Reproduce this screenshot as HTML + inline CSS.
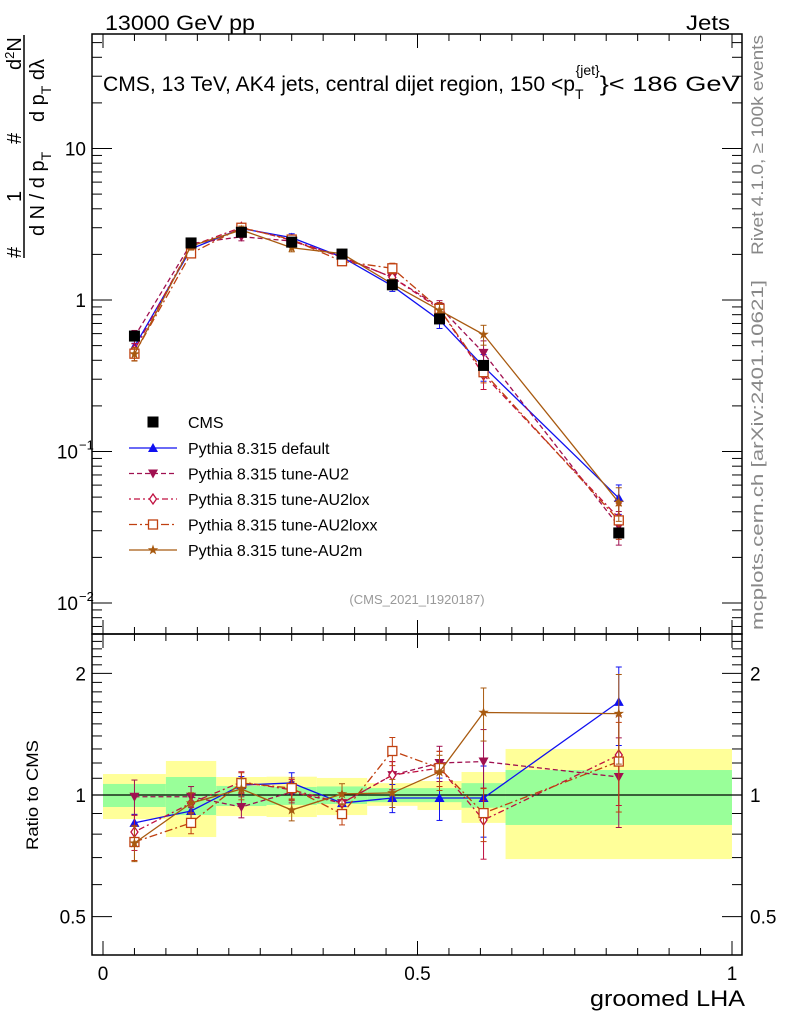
<!DOCTYPE html>
<html><head><meta charset="utf-8"><style>
body{margin:0;background:#fff;}
svg text{font-family:"Liberation Sans",sans-serif;}
</style></head><body>
<svg id="c" width="786" height="1024" xmlns="http://www.w3.org/2000/svg">
<rect width="786" height="1024" fill="#fff"/>
<g id="bands"></g>
<g id="marks"></g>
<g id="axes"></g>
<text x="105" y="30" font-size="21" textLength="150" lengthAdjust="spacingAndGlyphs">13000 GeV pp</text>
<text x="686" y="30" font-size="21" textLength="44" lengthAdjust="spacingAndGlyphs">Jets</text>
<text x="103" y="91" font-size="21"><tspan textLength="472" lengthAdjust="spacingAndGlyphs">CMS, 13 TeV, AK4 jets, central dijet region, 150 &lt;p</tspan><tspan font-size="14" dy="8">T</tspan><tspan font-size="14" dx="-8" dy="-24">{jet}</tspan><tspan dy="16" textLength="140" lengthAdjust="spacingAndGlyphs">}&lt; 186 GeV</tspan></text>
<text x="417" y="604" font-size="13" fill="#999" text-anchor="middle">(CMS_2021_I1920187)</text>
<text transform="translate(763,145) rotate(-90)" font-size="17" fill="#888" text-anchor="middle" textLength="220" lengthAdjust="spacingAndGlyphs">Rivet 4.1.0, ≥ 100k events</text>
<text transform="translate(763,455) rotate(-90)" font-size="17" fill="#888" text-anchor="middle" textLength="350" lengthAdjust="spacingAndGlyphs">mcplots.cern.ch [arXiv:2401.10621]</text>
<g font-size="20">
<line x1="24" y1="35" x2="24" y2="258" stroke="#000" stroke-width="1.5"/>
<text transform="translate(21,258) rotate(-90)">#</text>
<text transform="translate(21,202) rotate(-90)">1</text>
<text transform="translate(21,144) rotate(-90)">#</text>
<text transform="translate(21,70) rotate(-90)">d<tspan font-size="13" dy="-7">2</tspan><tspan dy="7">N</tspan></text>
<text transform="translate(44,236) rotate(-90)">d N / d p<tspan font-size="14" dy="7">T</tspan></text>
<text transform="translate(44,122) rotate(-90)">d p<tspan font-size="14" dy="7">T</tspan><tspan dy="-7"> dλ</tspan></text>
</g>
<text transform="translate(38,795) rotate(-90)" font-size="17" text-anchor="middle" textLength="110" lengthAdjust="spacingAndGlyphs">Ratio to CMS</text>
<text x="590" y="1006" font-size="22" textLength="155" lengthAdjust="spacingAndGlyphs">groomed LHA</text>
<g id="legend"></g>
</svg>
<script>
const xCenters=[0.05,0.14,0.22,0.30,0.38,0.46,0.535,0.605,0.82];
const binEdges=[0,0.1,0.18,0.26,0.34,0.42,0.5,0.57,0.64,1.0];
const cmsValues=[0.578,2.38,2.8,2.41,2.01,1.26,0.75,0.37,0.029];
const yellowUp=[1.127,1.214,1.108,1.11,1.102,1.07,1.083,1.14,1.30];
const yellowDn=[0.872,0.787,0.887,0.882,0.892,0.94,0.918,0.853,0.694];
const greenUp=[1.065,1.108,1.053,1.047,1.05,1.04,1.04,1.07,1.153];
const greenDn=[0.934,0.892,0.939,0.945,0.95,0.96,0.96,0.93,0.843];
const ratioDefault=[0.853,0.913,1.058,1.071,0.955,0.983,0.983,0.983,1.70];
const ratioAU2=[0.99,0.99,0.934,1.017,0.955,1.12,1.20,1.21,1.108];
const ratioAU2lox=[0.81,0.955,1.077,1.03,0.955,1.12,1.166,0.867,1.256];
const ratioAU2loxx=[0.765,0.853,1.071,1.04,0.897,1.285,1.166,0.902,1.21];
const ratioAU2m=[0.76,0.955,1.035,0.918,1.006,1.012,1.14,1.60,1.59];
const errDefault=[0.05,0.05,0.05,0.06,0.06,0.08,0.12,0.2,0.22];
const errAU2=[0.1,0.06,0.06,0.06,0.06,0.08,0.1,0.2,0.25];
const errAU2lox=[0.1,0.06,0.06,0.06,0.06,0.08,0.1,0.2,0.25];
const errAU2loxx=[0.1,0.06,0.06,0.06,0.06,0.08,0.1,0.15,0.25];
const errAU2m=[0.1,0.06,0.06,0.06,0.06,0.08,0.1,0.15,0.25];
const xTicks=[0,0.5,1];
const xTickLabels=["0","0.5","1"];
const ratioTicks=[0.5,1,2];
const ratioTickLabels=["0.5","1","2"];
const seriesNames=["Pythia 8.315 default","Pythia 8.315 tune-AU2","Pythia 8.315 tune-AU2lox","Pythia 8.315 tune-AU2loxx","Pythia 8.315 tune-AU2m"];

const NS="http://www.w3.org/2000/svg";
const L=92,R=742,T=34,M=634,B=955;
const X=v=>103+v*629;
const Y=v=>300-Math.log10(v)*151.5;
const RY=v=>795-Math.log10(v)*404;
function mk(p,tag,a){const e=document.createElementNS(NS,tag);for(const k in a)e.setAttribute(k,a[k]);p.appendChild(e);return e;}
const bands=document.getElementById('bands'),marks=document.getElementById('marks'),axes=document.getElementById('axes'),leg=document.getElementById('legend');

for(let i=0;i<xCenters.length;i++){
  const y=mk(bands,'rect',{x:X(binEdges[i]),y:RY(yellowUp[i]),width:X(binEdges[i+1])-X(binEdges[i]),height:RY(yellowDn[i])-RY(yellowUp[i]),fill:'#ffff99'});
  
  
  const g=mk(bands,'rect',{x:X(binEdges[i]),y:RY(greenUp[i]),width:X(binEdges[i+1])-X(binEdges[i]),height:RY(greenDn[i])-RY(greenUp[i]),fill:'#99ff99'});
  
  
}
const rl=mk(marks,'line',{x1:L,x2:R,y1:RY(1),y2:RY(1),stroke:'#000','stroke-width':1.2});



function marker(p,type,x,y,col){
  const s=5;
  if(type==='up')return mk(p,'polygon',{points:`${x},${y-s} ${x-s},${y+s*0.8} ${x+s},${y+s*0.8}`,fill:col});
  if(type==='down')return mk(p,'polygon',{points:`${x},${y+s} ${x-s},${y-s*0.8} ${x+s},${y-s*0.8}`,fill:col});
  if(type==='diamond')return mk(p,'polygon',{points:`${x},${y-5} ${x-3.5},${y} ${x},${y+5} ${x+3.5},${y}`,fill:'#fff',stroke:col,'stroke-width':1.3});
  if(type==='square')return mk(p,'rect',{x:x-4.5,y:y-4.5,width:9,height:9,fill:'#fff',stroke:col,'stroke-width':1.3});
  if(type==='star'){let pts=[];for(let k=0;k<10;k++){const r=k%2?2.2:5.5,a=-Math.PI/2+k*Math.PI/5;pts.push((x+r*Math.cos(a)).toFixed(1)+','+(y+r*Math.sin(a)).toFixed(1));}return mk(p,'polygon',{points:pts.join(' '),fill:col});}
  if(type==='cms')return mk(p,'rect',{x:x-5.5,y:y-5.5,width:11,height:11,fill:'#000'});
}
const series=[
 {r:ratioDefault,e:errDefault,col:'#1010f0',dash:'',m:'up',id:'default'},
 {r:ratioAU2,e:errAU2,col:'#a01050',dash:'5,3',m:'down',id:'au2'},
 {r:ratioAU2lox,e:errAU2lox,col:'#c01040',dash:'2,3,6,3',m:'diamond',id:'au2lox'},
 {r:ratioAU2loxx,e:errAU2loxx,col:'#c04010',dash:'8,3,2,3',m:'square',id:'au2loxx'},
 {r:ratioAU2m,e:errAU2m,col:'#a85a10',dash:'',m:'star',id:'au2m'}];
series.forEach((s,si)=>{
  const g=mk(marks,'g',{});
  
  
  const main=xCenters.map((x,i)=>[X(x),Y(cmsValues[i]*s.r[i])]);
  const rat=xCenters.map((x,i)=>[X(x),RY(s.r[i])]);
  [main,rat].forEach(pts=>{
    const pl=mk(g,'polyline',{points:pts.map(p=>p.join(',')).join(' '),fill:'none',stroke:s.col,'stroke-width':1.3,'stroke-dasharray':s.dash});
    
    
  });
  xCenters.forEach((x,i)=>{
    const v=cmsValues[i]*s.r[i],e=s.e[i];
    [[Y(v*(1+e)),Y(v*(1-e)),main[i][1]],[RY(s.r[i]*(1+e)),RY(s.r[i]*(1-e)),rat[i][1]]].forEach(([a,b,yy])=>{
      mk(g,'line',{x1:X(x),x2:X(x),y1:a,y2:b,stroke:s.col,'stroke-width':1});
      mk(g,'line',{x1:X(x)-3,x2:X(x)+3,y1:a,y2:a,stroke:s.col,'stroke-width':1});
      mk(g,'line',{x1:X(x)-3,x2:X(x)+3,y1:b,y2:b,stroke:s.col,'stroke-width':1});
      const mm=marker(g,s.m,X(x),yy,s.col);
      
      
    });
  });
  const ly=448+si*25.5;
  mk(leg,'line',{x1:129,x2:177,y1:ly,y2:ly,stroke:s.col,'stroke-width':1.3,'stroke-dasharray':s.dash});
  marker(leg,s.m,153,ly,s.col);
  const t=mk(leg,'text',{x:188,y:ly+6,'font-size':16});t.textContent=seriesNames[si];
  
  
});
xCenters.forEach((x,i)=>{
  const c=marker(marks,'cms',X(x),Y(cmsValues[i]),'#000');
  
  
});
marker(leg,'cms',153,422,'#000');
const ct=mk(leg,'text',{x:188,y:428,'font-size':16});ct.textContent='CMS';



mk(axes,'rect',{x:L,y:T,width:R-L,height:M-T,fill:'none',stroke:'#000','stroke-width':1.5});
mk(axes,'rect',{x:L,y:M,width:R-L,height:B-M,fill:'none',stroke:'#000','stroke-width':1.5});
for(let v=0;v<=1.0001;v+=0.05){
  const big=Math.abs(v*10-Math.round(v*10))<1e-6 && Math.round(v*10)%5===0;
  const len=big?14:7;
  [[T,T+len],[M,M-len],[M,M+len],[B,B-len]].forEach(([a,b])=>mk(axes,'line',{x1:X(v),x2:X(v),y1:a,y2:b,stroke:'#000'}));
}
xTicks.forEach((v,i)=>{const t=mk(axes,'text',{x:X(v),y:980,'font-size':19,'text-anchor':'middle'});t.textContent=xTickLabels[i];
 
 });
for(let d=-3;d<=1;d++)for(let k=1;k<=9;k++){
  const v=k*Math.pow(10,d),y=Y(v);if(y<T||y>M)continue;
  const len=k===1?20:10;
  mk(axes,'line',{x1:L,x2:L+len,y1:y,y2:y,stroke:'#000'});
  mk(axes,'line',{x1:R,x2:R-len,y1:y,y2:y,stroke:'#000'});
}
[[0.01,'10','−2'],[0.1,'10','−1'],[1,'1',''],[10,'10','']].forEach(([v,b,e])=>{
  const t=mk(axes,'text',{x:e?78:86,y:Y(v)+7,'font-size':19,'text-anchor':'end'});
  t.textContent=b;
  
  
  if(e){const s=mk(axes,'text',{x:79,y:Y(v)-2,'font-size':13});s.textContent=e;}
});
for(let v=0.4;v<=2.5;v+=0.1){
  const y=RY(v);if(y<M||y>B)continue;
  const big=ratioTicks.some(t=>Math.abs(t-v)<1e-6);
  const len=big?20:10;
  mk(axes,'line',{x1:L,x2:L+len,y1:y,y2:y,stroke:'#000'});
  mk(axes,'line',{x1:R,x2:R-len,y1:y,y2:y,stroke:'#000'});
}
ratioTicks.forEach((v,i)=>{
  const t=mk(axes,'text',{x:86,y:RY(v)+7,'font-size':19,'text-anchor':'end'});t.textContent=ratioTickLabels[i];
  
  
  const t2=mk(axes,'text',{x:750,y:RY(v)+7,'font-size':19});t2.textContent=ratioTickLabels[i];
  
  
});
</script>
</body></html>
